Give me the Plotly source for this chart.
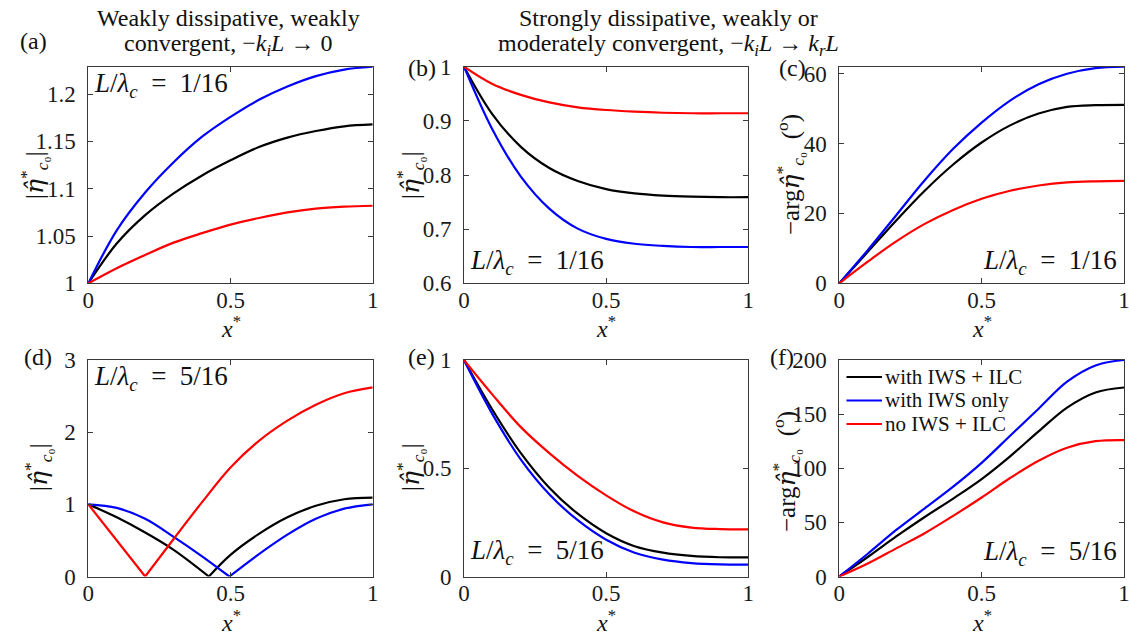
import plotly.graph_objects as go

W, H = 1129, 637
FONT = "Liberation Serif"

# ---------------- data ----------------
X = [0.0, 0.1, 0.2, 0.3, 0.4, 0.5, 0.6, 0.7, 0.8, 0.9, 1.0]

# (a) |eta| , L/lambda_c = 1/16, weakly dissipative
a_black = [1.000, 1.042, 1.072, 1.095, 1.114, 1.130, 1.144, 1.154, 1.161, 1.166, 1.168]
a_blue = [1.000, 1.056, 1.096, 1.128, 1.155, 1.176, 1.194, 1.208, 1.219, 1.226, 1.229]
a_red = [1.000, 1.016, 1.030, 1.043, 1.053, 1.062, 1.069, 1.075, 1.079, 1.081, 1.082]

# (b) |eta| , L/lambda_c = 1/16, strongly dissipative
b_black = [1.000, 0.912, 0.852, 0.813, 0.789, 0.774, 0.766, 0.762, 0.760, 0.759, 0.759]
b_blue = [1.000, 0.884, 0.797, 0.738, 0.701, 0.682, 0.673, 0.669, 0.667, 0.667, 0.667]
b_red = [1.000, 0.968, 0.948, 0.934, 0.925, 0.920, 0.917, 0.915, 0.914, 0.914, 0.914]

# (c) -arg eta (deg), L/lambda_c = 1/16
c_black = [0.0, 9.0, 18.0, 26.5, 34.0, 40.3, 45.2, 48.6, 50.5, 51.0, 51.1]
c_blue = [0.0, 9.5, 19.5, 29.5, 38.5, 46.0, 52.3, 57.0, 60.0, 61.6, 62.0]
c_red = [0.0, 6.2, 12.0, 17.0, 21.0, 24.2, 26.5, 28.0, 28.9, 29.2, 29.3]

# (d) |eta| , L/lambda_c = 5/16, weakly dissipative (segments split at the nodes)
d_black_x1 = [0.0, 0.1, 0.2, 0.3, 0.424]
d_black_y1 = [1.00, 0.82, 0.61, 0.37, 0.00]
d_black_x2 = [0.424, 0.5, 0.6, 0.7, 0.8, 0.9, 1.0]
d_black_y2 = [0.00, 0.30, 0.59, 0.82, 0.98, 1.07, 1.094]
d_blue_x1 = [0.0, 0.1, 0.2, 0.3, 0.4, 0.496]
d_blue_y1 = [1.00, 0.95, 0.80, 0.55, 0.28, 0.00]
d_blue_x2 = [0.496, 0.6, 0.7, 0.8, 0.9, 1.0]
d_blue_y2 = [0.00, 0.31, 0.58, 0.80, 0.94, 1.00]
d_red_x1 = [0.0, 0.1, 0.2]
d_red_y1 = [1.00, 0.50, 0.00]
d_red_x2 = [0.2, 0.3, 0.4, 0.5, 0.6, 0.7, 0.8, 0.9, 1.0]
d_red_y2 = [0.00, 0.52, 1.03, 1.51, 1.88, 2.16, 2.38, 2.54, 2.62]

# (e) |eta| , L/lambda_c = 5/16, strongly dissipative
e_black = [1.000, 0.770, 0.570, 0.410, 0.290, 0.200, 0.140, 0.110, 0.095, 0.089, 0.088]
e_blue = [1.000, 0.750, 0.540, 0.380, 0.260, 0.170, 0.110, 0.078, 0.062, 0.056, 0.055]
e_red = [1.000, 0.840, 0.690, 0.570, 0.465, 0.375, 0.300, 0.250, 0.226, 0.219, 0.218]

# (f) -arg eta (deg), L/lambda_c = 5/16
f_black = [0.0, 18.0, 37.0, 55.0, 72.0, 90.0, 111.0, 134.0, 156.0, 170.0, 174.6]
f_blue = [0.0, 21.0, 43.0, 63.0, 83.0, 105.0, 130.0, 155.0, 180.0, 195.0, 200.0]
f_red = [0.0, 12.0, 26.0, 40.0, 56.0, 73.0, 91.0, 107.0, 119.0, 125.0, 126.0]

series_names = ["with IWS + ILC", "with IWS only", "no IWS + ILC"]
colors = ["#000000", "#0000FF", "#FF0000"]

x_ticks = [0, 0.5, 1]
x_ticktext = ["0", "0.5", "1"]
y_ticks = {
    1: ([1, 1.05, 1.1, 1.15, 1.2], ["1", "1.05", "1.1", "1.15", "1.2"], [1, 1.229]),
    2: ([0.6, 0.7, 0.8, 0.9, 1.0], ["0.6", "0.7", "0.8", "0.9", "1"], [0.6, 1.0]),
    3: ([0, 20, 40, 60], ["0", "20", "40", "60"], [0, 62]),
    4: ([0, 1, 2, 3], ["0", "1", "2", "3"], [0, 3]),
    5: ([0, 0.5, 1], ["0", "0.5", "1"], [0, 1]),
    6: ([0, 50, 100, 150, 200], ["0", "50", "100", "150", "200"], [0, 200]),
}

# ---------------- figure ----------------
def pxx(x):
    return x / W


def pyy(y):
    return 1 - y / H


fig = go.Figure()
LW = 2.2


def add(xs, ys, k, color, name=None, shape="spline"):
    sfx = "" if k == 1 else str(k)
    fig.add_trace(go.Scatter(
        x=xs, y=ys, mode="lines", name=name, showlegend=False,
        line=dict(color=color, width=LW, shape=shape, smoothing=1.0),
        xaxis="x" + sfx, yaxis="y" + sfx, hoverinfo="skip"))


for k, trio in [(1, (a_black, a_blue, a_red)), (2, (b_black, b_blue, b_red)),
                (3, (c_black, c_blue, c_red)), (5, (e_black, e_blue, e_red))]:
    for ys, col, nm in zip(trio, colors, series_names):
        add(X, ys, k, col, name=nm)

add(d_black_x1, d_black_y1, 4, colors[0], series_names[0])
add(d_black_x2, d_black_y2, 4, colors[0], series_names[0])
add(d_blue_x1, d_blue_y1, 4, colors[1], series_names[1])
add(d_blue_x2, d_blue_y2, 4, colors[1], series_names[1])
add(d_red_x1, d_red_y1, 4, colors[2], series_names[2], shape="linear")
add(d_red_x2, d_red_y2, 4, colors[2], series_names[2])

for ys, col, nm in zip((f_black, f_blue, f_red), colors, series_names):
    add(X, ys, 6, col, name=nm)

dom_x = [(88.3, 372.7), (464.0, 748.3), (839.3, 1124.0)]
dom_y = [(66.7, 283.3), (360.0, 576.5)]

AXC = "#3a3a3a"
layout = dict(
    template="none",
    width=W, height=H, margin=dict(l=0, r=0, t=0, b=0, pad=0, autoexpand=False),
    paper_bgcolor="white", plot_bgcolor="white",
    font=dict(family=FONT, size=22, color="#111"),
    showlegend=False,
)
for k in range(1, 7):
    r = (k - 1) // 3
    c = (k - 1) % 3
    sfx = "" if k == 1 else str(k)
    x0, x1 = dom_x[c]
    y0, y1 = dom_y[r]
    common = dict(showline=True, linecolor=AXC, linewidth=1, mirror="ticks",
                  ticks="inside", ticklen=5, tickwidth=1, tickcolor=AXC,
                  showgrid=False, zeroline=False, automargin=False,
                  ticklabeloverflow="allow",
                  tickfont=dict(family=FONT, size=23, color="#1a1a1a"))
    layout["xaxis" + sfx] = dict(common, domain=[pxx(x0), pxx(x1)], range=[0, 1],
                                 tickvals=x_ticks, ticktext=x_ticktext,
                                 anchor="y" + sfx, ticklabelstandoff=-4)
    tv, tt, rg = y_ticks[k]
    layout["yaxis" + sfx] = dict(common, domain=[pyy(y1), pyy(y0)], range=rg,
                                 tickvals=tv, ticktext=tt,
                                 anchor="x" + sfx, ticklabelstandoff=7)
fig.update_layout(**layout)

ann = []
shapes = []


def text(s, x, y, size=22, xanchor="center", yanchor="middle", angle=0):
    ann.append(dict(text=s, x=pxx(x), y=pyy(y), xref="paper", yref="paper",
                    xanchor=xanchor, yanchor=yanchor, showarrow=False,
                    textangle=angle, font=dict(family=FONT, size=size, color="#111")))


# titles
text("Weakly dissipative, weakly", 228, 18, size=24)
text("convergent, −<i>k<sub>i</sub>L</i> → 0", 228, 45, size=24)
text("Strongly dissipative, weakly or", 668, 18, size=24)
text("moderately convergent, −<i>k<sub>i</sub>L</i> → <i>k<sub>r</sub>L</i>", 668, 45, size=24)

# panel letters
for lab, x, y in [("(a)", 33, 41), ("(b)", 422, 68), ("(c)", 792, 68),
                  ("(d)", 38, 357), ("(e)", 422, 357), ("(f)", 782, 357)]:
    text(lab, x, y, size=24)

# x labels
for xc in (230.5, 606.1, 981.6):
    text("<i>x</i><sup>*</sup>", xc, 327, size=24)
    text("<i>x</i><sup>*</sup>", xc, 621, size=24)

# y labels
eta = '<span style="font-family:\'DejaVu Serif\'"><i>η̂</i></span>'
yl_abs = "|" + eta + "<sup>*</sup><sub><i>c</i>₀</sub>|"
yl_arg = "−arg" + eta + "<sup>*</sup><sub><i>c</i>₀</sub>  (<sup>o</sup>)"
text(yl_abs, 34, 175, size=25, angle=-90)
text(yl_abs, 410, 175, size=25, angle=-90)
text(yl_arg, 790, 175, size=25, angle=-90)
text(yl_abs, 38, 467, size=25, angle=-90)
text(yl_abs, 410, 467, size=25, angle=-90)
text(yl_arg, 786, 472, size=25, angle=-90)

# L / lambda_c annotations
sp = "\u2002"
r16 = "<i>L</i>/<i>λ<sub>c</sub></i>" + sp + "=" + sp + "1/16"
r516 = "<i>L</i>/<i>λ<sub>c</sub></i>" + sp + "=" + sp + "5/16"
text(r16, 92, 85, size=27, xanchor="left")
text(r16, 468, 262, size=27, xanchor="left")
text(r16, 1119, 262, size=27, xanchor="right")
text(r516, 92, 378, size=27, xanchor="left")
text(r516, 468, 552, size=27, xanchor="left")
text(r516, 1119, 553, size=27, xanchor="right")

# legend of panel (f): line samples + labels
for i, (nm, col) in enumerate(zip(series_names, colors)):
    yc = [377, 400.5, 424][i]
    shapes.append(dict(type="line", xref="paper", yref="paper",
                       x0=pxx(846.5), x1=pxx(882), y0=pyy(yc), y1=pyy(yc),
                       line=dict(color=col, width=LW)))
    text(nm, 883, yc, size=21, xanchor="left")

fig.update_layout(annotations=ann, shapes=shapes)
fig.write_html("out.html",
               config={"displayModeBar": False, "staticPlot": True},
               post_script="document.body.style.margin='0px';"
                           "document.body.style.overflow='hidden';")
